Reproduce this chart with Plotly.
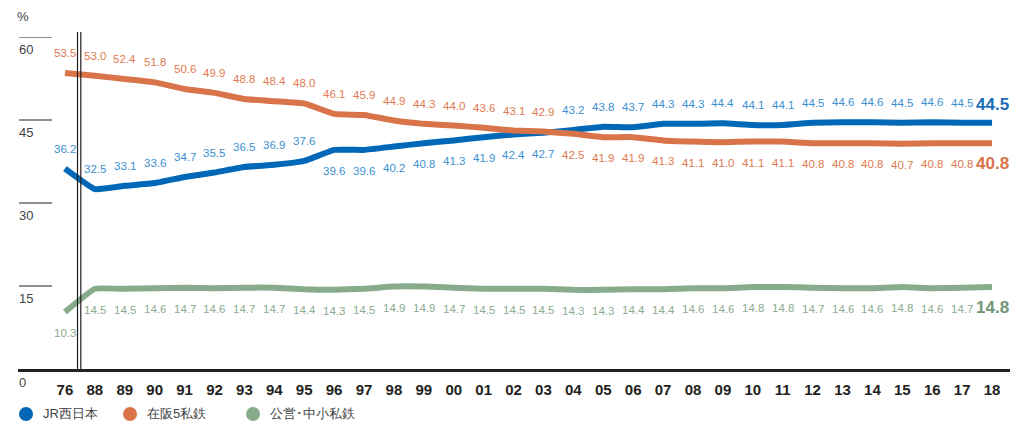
import plotly.graph_objects as go

years = ["76", "88", "89", "90", "91", "92", "93", "94", "95", "96", "97", "98", "99", "00", "01",
         "02", "03", "04", "05", "06", "07", "08", "09", "10", "11", "12", "13", "14", "15", "16", "17", "18"]
jr_west = [36.2, 32.5, 33.1, 33.6, 34.7, 35.5, 36.5, 36.9, 37.6, 39.6, 39.6, 40.2, 40.8, 41.3, 41.9,
           42.4, 42.7, 43.2, 43.8, 43.7, 44.3, 44.3, 44.4, 44.1, 44.1, 44.5, 44.6, 44.6, 44.5, 44.6, 44.5, 44.5]
osaka5 = [53.5, 53.0, 52.4, 51.8, 50.6, 49.9, 48.8, 48.4, 48.0, 46.1, 45.9, 44.9, 44.3, 44.0, 43.6,
          43.1, 42.9, 42.5, 41.9, 41.9, 41.3, 41.1, 41.0, 41.1, 41.1, 40.8, 40.8, 40.8, 40.7, 40.8, 40.8, 40.8]
public_small = [10.3, 14.5, 14.5, 14.6, 14.7, 14.6, 14.7, 14.7, 14.4, 14.3, 14.5, 14.9, 14.9, 14.7, 14.5,
                14.5, 14.5, 14.3, 14.3, 14.4, 14.4, 14.6, 14.6, 14.8, 14.8, 14.7, 14.6, 14.6, 14.8, 14.6, 14.7, 14.8]
series_names = ["JR西日本", "在阪5私鉄", "公営･中小私鉄"]
y_ticks = [15, 30, 45, 60]

line_colors = ["#0068b7", "#d9744a", "#86ac8c"]
label_colors = ["#3b8fd0", "#e07a50", "#8aab8f"]
final_colors = ["#1a6cb8", "#d9744a", "#6f9677"]
FONT = "Liberation Sans, Arial, sans-serif"

W, H = 1020, 422
ML, MR, MT, MB = 18, 10, 37, 53
PW = W - ML - MR
PH = H - MT - MB

xs = list(range(len(years)))
fig = go.Figure()
all_series = [jr_west, osaka5, public_small]
for name, vals, c in zip(series_names, all_series, line_colors):
    fig.add_trace(go.Scatter(x=xs, y=vals, mode="lines", line=dict(color=c, width=6, shape="spline", smoothing=0.3),
                             showlegend=False, hoverinfo="skip"))

annotations = []
for si, vals in enumerate(all_series):
    for i, v in enumerate(vals):
        if si == 0:
            above = jr_west[i] > osaka5[i] or (osaka5[i] - jr_west[i]) > 8
        elif si == 1:
            above = osaka5[i] > jr_west[i]
        else:
            above = False
        last = i == len(vals) - 1
        annotations.append(dict(
            x=xs[i], y=v, xref="x", yref="y", text=f"{v:.1f}" if not last else f"<b>{v:.1f}</b>",
            showarrow=False, yshift=(20 if above else -21) if not last else (18 if above else -20),
            font=dict(family=FONT, size=17 if last else 11.5,
                      color=final_colors[si] if last else label_colors[si])))

# y tick labels below short marks
for t in y_ticks:
    annotations.append(dict(x=(26 - ML) / PW, y=t, xref="paper", yref="y", text=str(t), showarrow=False,
                            xanchor="center", yshift=-12, font=dict(family=FONT, size=13, color="#444")))
annotations.append(dict(x=(22 - ML) / PW, y=0, xref="paper", yref="y", text="0", showarrow=False,
                        xanchor="center", yshift=-13, font=dict(family=FONT, size=13, color="#444")))
annotations.append(dict(x=(23 - ML) / PW, y=(H - MB - 17) / PH, xref="paper", yref="paper", text="%",
                        showarrow=False, xanchor="center", yanchor="middle",
                        font=dict(family=FONT, size=13, color="#444")))

shapes = []
for t in y_ticks:
    shapes.append(dict(type="line", xref="paper", yref="y", x0=(19 - ML) / PW, x1=(52 - ML) / PW, y0=t, y1=t,
                       line=dict(color="#231f20", width=1.2)))
# axis break double line
for bx in [0.42, 0.53]:
    shapes.append(dict(type="line", xref="x", yref="paper", x0=bx, x1=bx, y0=0, y1=1.015,
                       line=dict(color="#231f20", width=1.2), layer="above"))

# custom legend (circle + text)
legend_x = [26, 130, 253]
legend_y = (H - MB - 414) / PH
r_px = 7
for lx, name, c in zip(legend_x, series_names, line_colors):
    shapes.append(dict(type="circle", xref="paper", yref="paper",
                       x0=(lx - r_px - ML) / PW, x1=(lx + r_px - ML) / PW,
                       y0=legend_y - r_px / PH, y1=legend_y + r_px / PH,
                       fillcolor=c, line=dict(width=0)))
    annotations.append(dict(x=(lx + 15 - ML) / PW, y=legend_y, xref="paper", yref="paper", text=name,
                            showarrow=False, xanchor="left", yanchor="middle",
                            font=dict(family=FONT, size=13, color="#444")))

fig.update_layout(
    width=W, height=H,
    margin=dict(l=ML, r=MR, t=MT, b=MB, autoexpand=False),
    paper_bgcolor="white", plot_bgcolor="white",
    showlegend=False,
    xaxis=dict(range=[-1.57, 31.6], tickmode="array", tickvals=xs, ticktext=[f"<b>{y}</b>" for y in years],
               showgrid=False, zeroline=False, showline=True, linecolor="#231f20", linewidth=2.5,
               ticks="", ticklabelstandoff=5, tickfont=dict(family=FONT, size=15, color="#231f20")),
    yaxis=dict(range=[0, 60], showgrid=False, zeroline=False, showticklabels=False, showline=False),
    annotations=annotations, shapes=shapes,
)
fig.write_html("out.html", config={"displayModeBar": False},
               post_script="document.body.style.margin='0';document.body.style.overflow='hidden';")
